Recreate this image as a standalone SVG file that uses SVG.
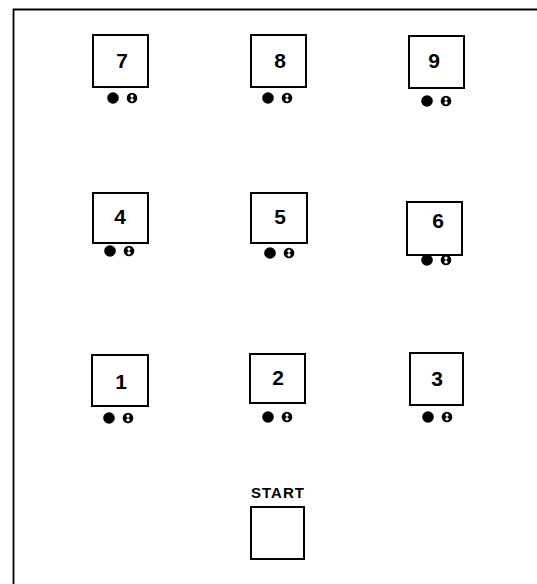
<svg xmlns="http://www.w3.org/2000/svg" width="537" height="584" viewBox="0 0 537 584">
<style>
.box{fill:#fff;stroke:#000;stroke-width:2}
.num{font-family:"Liberation Sans",Arial,sans-serif;font-weight:bold;font-size:21px;text-anchor:middle;fill:#000}
.lbl{font-family:"Liberation Sans",Arial,sans-serif;font-weight:bold;font-size:15px;text-anchor:middle;fill:#000;letter-spacing:1px}
.dot{fill:#000}
.hole{fill:#fff}
</style>
<defs>
<g id="pair">
<circle class="dot" cx="0" cy="0" r="5.8"/>
<circle class="dot" cx="19" cy="0" r="5.3"/>
<circle class="hole" cx="19" cy="-1.9" r="1.6"/>
<circle class="hole" cx="19" cy="1.9" r="1.7"/>
</g>
</defs>
<rect width="537" height="584" fill="#fff"/>
<g id="frame"><path d="M13.5 584 V9.5 H537" fill="none" stroke="#000" stroke-width="1.8"/></g>
<g id="connectors"></g>
<g id="n7"><rect class="box" x="93" y="35" width="55" height="52"/><text class="num" x="122" y="68">7</text><use href="#pair" x="113" y="98"/></g>
<g id="n8"><rect class="box" x="251" y="35" width="55" height="52"/><text class="num" x="280" y="68">8</text><use href="#pair" x="268" y="98"/></g>
<g id="n9"><rect class="box" x="409" y="36" width="55" height="52"/><text class="num" x="434" y="68">9</text><use href="#pair" x="427" y="101"/></g>
<g id="n4"><rect class="box" x="93" y="193" width="55" height="50"/><text class="num" x="120" y="224">4</text><use href="#pair" x="110" y="251"/></g>
<g id="n5"><rect class="box" x="251" y="193" width="56" height="50"/><text class="num" x="280" y="224">5</text><use href="#pair" x="270" y="253"/></g>
<g id="n6"><rect class="box" x="407" y="202" width="55" height="53"/><text class="num" x="438" y="228">6</text><use href="#pair" x="427" y="260"/></g>
<g id="n1"><rect class="box" x="92" y="355" width="56" height="51"/><text class="num" x="121" y="389">1</text><use href="#pair" x="109" y="418"/></g>
<g id="n2"><rect class="box" x="250" y="354" width="55" height="49"/><text class="num" x="278" y="385">2</text><use href="#pair" x="268" y="417"/></g>
<g id="n3"><rect class="box" x="410" y="353" width="53" height="52"/><text class="num" x="437" y="386">3</text><use href="#pair" x="428" y="417"/></g>
<g id="start"><text class="lbl" x="278" y="498">START</text><rect class="box" x="251" y="507" width="53" height="52"/></g>
</svg>
